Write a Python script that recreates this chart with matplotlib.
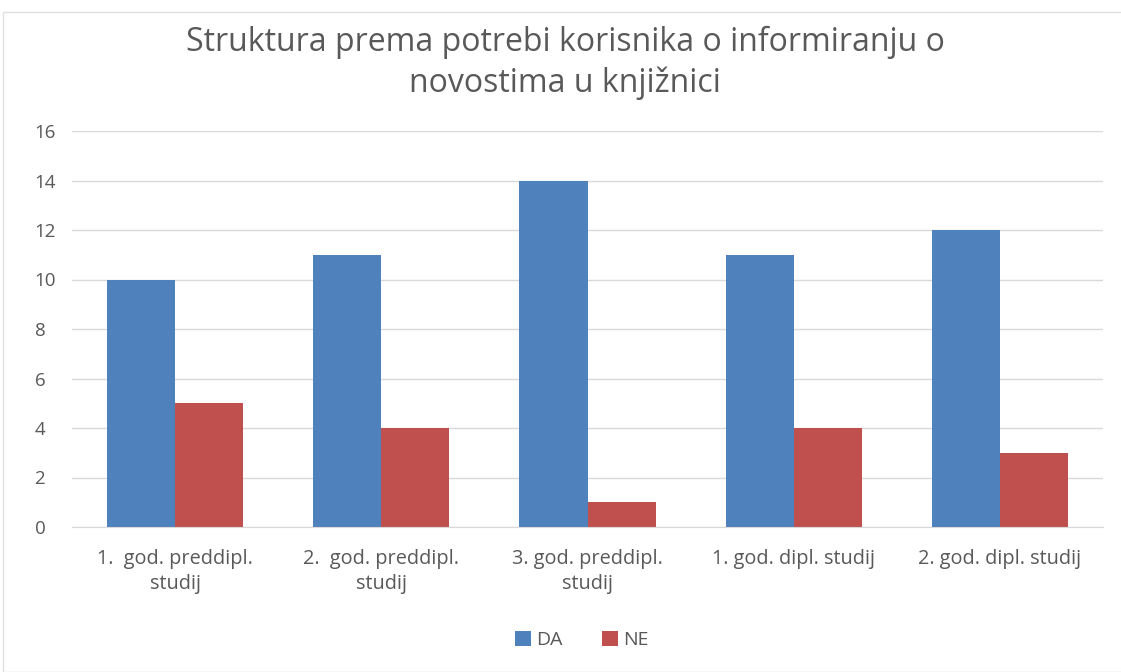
import matplotlib.pyplot as plt
import numpy as np
from matplotlib.patches import Rectangle

# ----- Data -----
categories = ["1.  god. preddipl.\nstudij", "2.  god. preddipl.\nstudij",
              "3. god. preddipl.\nstudij", "1. god. dipl. studij",
              "2. god. dipl. studij"]
da = [10, 11, 14, 11, 12]
ne = [5, 4, 1, 4, 3]

blue = "#4F81BD"
red = "#C0504D"
grey_txt = "#595959"
grid_c = "#D9D9D9"

plt.rcParams['font.family'] = ['Open Sans', 'DejaVu Sans']

fig = plt.figure(figsize=(11.21, 6.72), dpi=100)
ax = fig.add_axes([72 / 1121, 1 - 527 / 672, (1103 - 72) / 1121, (527 - 131) / 672])

x = np.arange(len(categories))
w = 0.33
ax.bar(x - w / 2, da, w, color=blue, label="DA", zorder=3)
ax.bar(x + w / 2, ne, w, color=red, label="NE", zorder=3)

ax.set_xlim(-0.5, len(categories) - 0.5)
ax.set_ylim(0, 16)
ax.set_yticks(range(0, 17, 2))
ax.yaxis.grid(True, color=grid_c, lw=1, zorder=0)
ax.set_xticks(x)
ax.set_xticklabels(categories, fontsize=14.3, color=grey_txt, linespacing=1.3,
                   multialignment='center')
ax.tick_params(axis='y', labelsize=13.5, labelcolor=grey_txt, length=0, pad=27)
ax.tick_params(axis='x', length=0, pad=16)
for s in ["top", "right", "left"]:
    ax.spines[s].set_visible(False)
ax.spines["bottom"].set_color(grid_c)
ax.spines["bottom"].set_zorder(4)
for lbl in ax.get_yticklabels():
    lbl.set_horizontalalignment('left')

fig.text(565 / 1121, 1 - 63 / 672,
         "Struktura prema potrebi korisnika o informiranju o\nnovostima u knjižnici",
         ha='center', va='center', fontsize=23, color=grey_txt,
         linespacing=1.32)

leg = fig.legend(loc='center', bbox_to_anchor=(582 / 1121, 1 - 640 / 672),
                 ncol=2, frameon=False, fontsize=14, handlelength=0.8,
                 handleheight=0.8, columnspacing=2.0, handletextpad=0.3)
for t in leg.get_texts():
    t.set_color(grey_txt)

# faint chart border
fig.patches.append(Rectangle((3 / 1121, 0), 1.2, 1 - 12 / 672, transform=fig.transFigure,
                             fill=False, edgecolor="#E0E0E0", lw=1))

fig.savefig("out.png", dpi=100, facecolor="white")
